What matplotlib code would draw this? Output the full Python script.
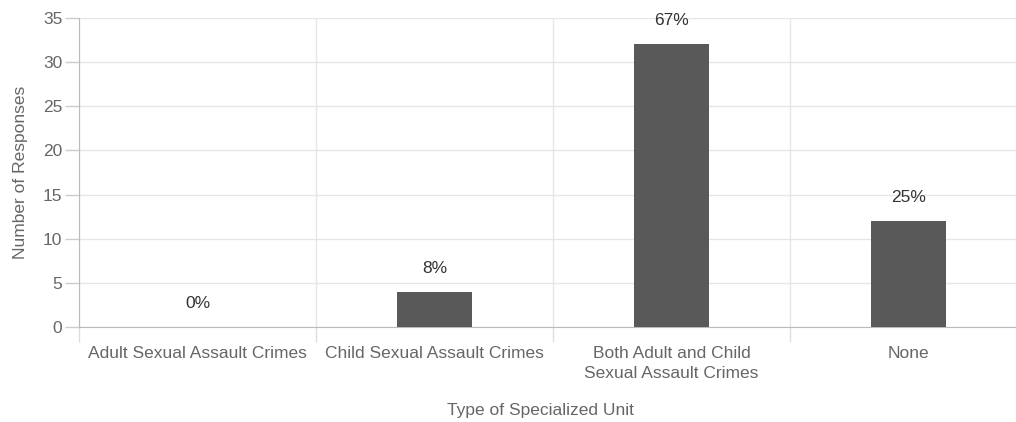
import numpy as np
import matplotlib.pyplot as plt
from matplotlib.ticker import FixedLocator

# Données
categories = ["Adult Sexual Assault Crimes", "Child Sexual Assault Crimes",
              "Both Adult and Child\nSexual Assault Crimes", "None"]
responses = [0, 4, 32, 12]
pct_labels = ["0%", "8%", "67%", "25%"]
y_ticks = [0, 5, 10, 15, 20, 25, 30, 35]

plt.rcParams["font.family"] = ["Liberation Sans", "DejaVu Sans"]

fig = plt.figure(figsize=(10.16, 4.22), dpi=100)
# l'axe déborde un peu à droite, comme sur l'original
ax = fig.add_axes([79 / 1016, 1 - 327 / 422, 948 / 1016, 309 / 422])

x = np.arange(len(categories))
ax.bar(x, responses, width=0.316, color="#595959", zorder=3)

for xi, v, lab in zip(x, responses, pct_labels):
    ax.annotate(lab, (xi, v), xytext=(0, 17), textcoords="offset points",
                ha="center", va="center", fontsize=12.5, color="#333333")

ax.set_xlim(-0.5, 3.5)
ax.set_ylim(0, 35)
ax.set_yticks(y_ticks)
ax.yaxis.grid(True, color="#e6e6e6", linewidth=1, zorder=0)

# graduations majeures aux limites des catégories, étiquettes au centre
ax.xaxis.set_major_locator(FixedLocator([-0.5, 0.5, 1.5, 2.5, 3.5]))
ax.xaxis.set_minor_locator(FixedLocator(x))
ax.set_xticklabels([], minor=False)
ax.set_xticklabels(categories, minor=True, linespacing=1.4)
ax.xaxis.grid(True, which="major", color="#e6e6e6", linewidth=1, zorder=0)

ax.tick_params(axis="x", which="major", length=11, color="#dddddd", width=1)
ax.tick_params(axis="x", which="minor", length=0, pad=14, labelsize=12.5,
               labelcolor="#666666")
ax.tick_params(axis="y", length=10, color="#cccccc", width=1, pad=2,
               labelsize=12.5, labelcolor="#666666")

for s in ["top", "right"]:
    ax.spines[s].set_visible(False)
ax.spines["left"].set_color("#bbbbbb")
ax.spines["bottom"].set_color("#bbbbbb")

ax.set_ylabel("Number of Responses", fontsize=12.5, color="#666666", labelpad=11)
fig.text(540 / 1016, 1 - 410 / 422, "Type of Specialized Unit", ha="center",
         va="center", fontsize=12.5, color="#666666")

fig.savefig("out.png", dpi=100)
